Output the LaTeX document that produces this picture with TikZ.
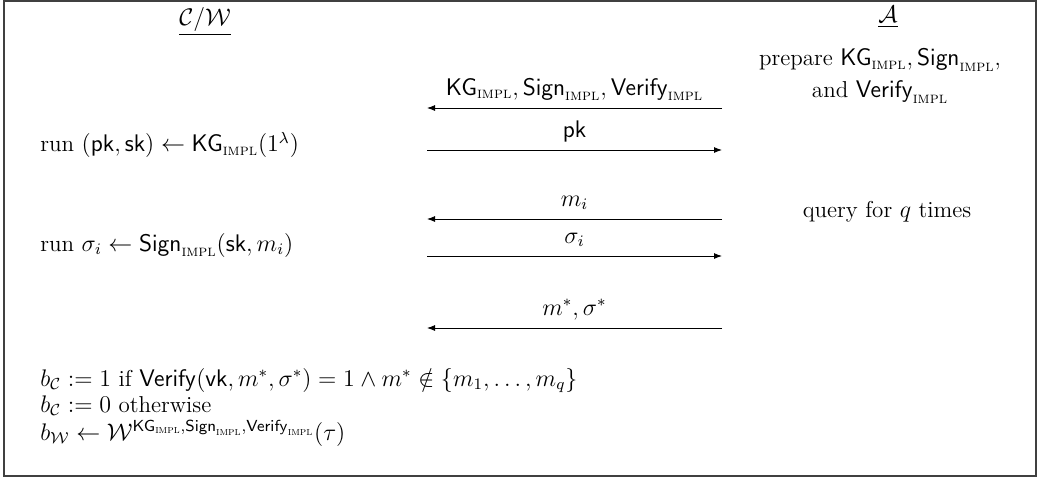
\documentclass[tikz,border=0pt]{standalone}
\usepackage{amsmath,amssymb}
\usetikzlibrary{arrows.meta,positioning}
\newcommand{\impl}{\textsc{impl}}
\newcommand{\KGimpl}{\mathsf{KG}_{\impl}}
\newcommand{\Signimpl}{\mathsf{Sign}_{\impl}}
\newcommand{\Verifyimpl}{\mathsf{Verify}_{\impl}}
\tikzset{
  frame/.style   = {draw=black!75, line width=0.6pt},
  party/.style   = {inner sep=1pt},
  stmt/.style    = {anchor=west, inner sep=0pt},
  outc/.style    = {anchor=base west, inner sep=0pt},
  note/.style    = {align=center, inner sep=1pt},
  msg/.style     = {-{Latex[length=4pt,width=3pt]}, line width=0.45pt},
  msglbl/.style  = {anchor=base, yshift=6.5pt, inner sep=0pt},
}
\begin{document}
\begin{tikzpicture}[x=0.5pt,y=0.5pt, font=\fontsize{11.5}{14}\selectfont]
\useasboundingbox (0,0) rectangle (1040,-478);
\draw[frame] (4,-1) rectangle (1036,-476);

% -- the two parties ---------------------------------------------------------
\node[party] (cw)  at (205,-22) {\underline{$\mathcal{C}/\mathcal{W}$}};
\node[party] (adv) at (888,-17) {\underline{$\mathcal{A}$}};

% -- what each side does -----------------------------------------------------
\node[note] (prep) at (880,-76)
  {prepare $\KGimpl,\Signimpl$,\\[2pt] and $\Verifyimpl$};
\node[stmt] (kgrun)   at (40,-145) {run $(\mathsf{pk},\mathsf{sk})\leftarrow\KGimpl(1^\lambda)$};
\node[stmt] (signrun) at (40,-245) {run $\sigma_i\leftarrow\Signimpl(\mathsf{sk},m_i)$};
\node[note] (query)   at (887,-212) {query for $q$ times};

% -- message ends ------------------------------------------------------------
\foreach \n/\y in {kg/108, pk/150, mi/219, si/256, ms/328}{
  \coordinate (\n L) at (427,-\y);
  \coordinate (\n R) at (722,-\y);
}

% -- the messages ------------------------------------------------------------
\draw[msg] (kgR) -- node[msglbl] {$\KGimpl,\Signimpl,\Verifyimpl$} (kgL);
\draw[msg] (pkL) -- node[msglbl] {$\mathsf{pk}$} (pkR);
\draw[msg] (miR) -- node[msglbl] {$m_i$} (miL);
\draw[msg] (siL) -- node[msglbl] {$\sigma_i$} (siR);
\draw[msg] (msR) -- node[msglbl] {$m^*,\sigma^*$} (msL);

% -- outcome -----------------------------------------------------------------
\node[outc] (bc1) at (40,-386)
  {$b_{\mathcal{C}} := 1$ if $\mathsf{Verify}(\mathsf{vk},m^*,\sigma^*)=1\wedge m^*\notin\{m_1,\dots,m_q\}$};
\node[outc] (bc0) at (40,-412) {$b_{\mathcal{C}} := 0$ otherwise};
\node[outc] (bw)  at (40,-440)
  {$b_{\mathcal{W}}\leftarrow\mathcal{W}^{\KGimpl,\Signimpl,\Verifyimpl}(\tau)$};

\end{tikzpicture}
\end{document}
